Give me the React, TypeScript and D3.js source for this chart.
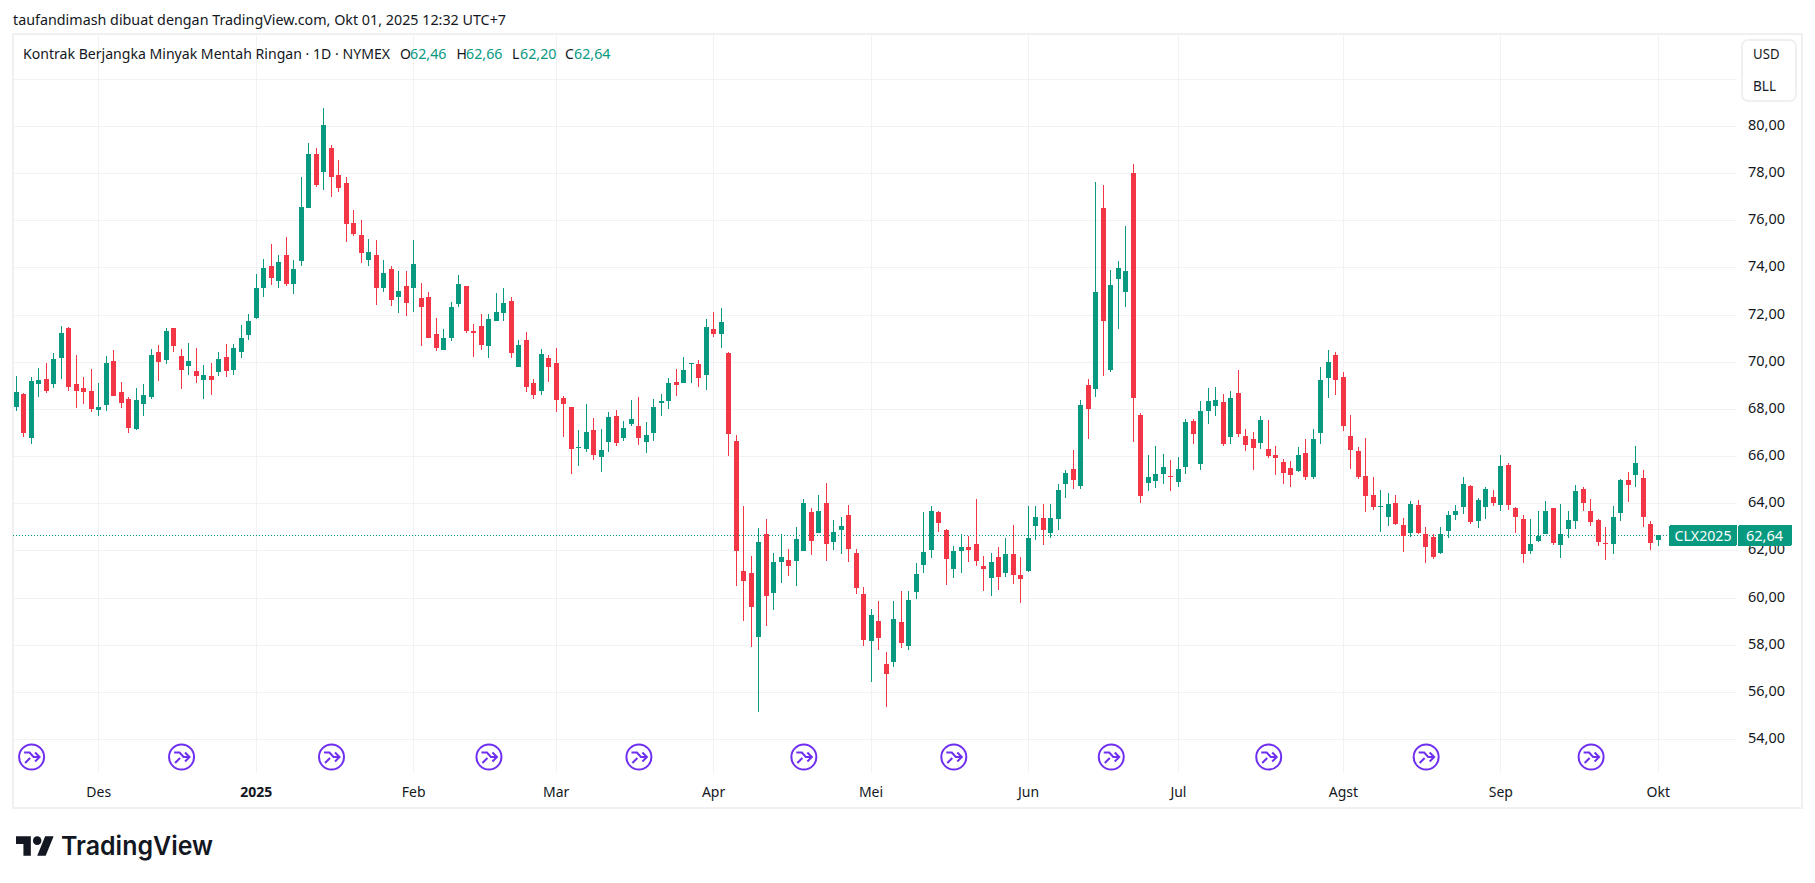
import * as d3 from "d3";

const width = 1815;
const height = 883;
const plotLeft = 13;
const plotRight = 1737;
const plotTop = 34;
const plotBottom = 773;
const frameRight = 1802;
const frameBottom = 808;

const green = "#089981";
const red = "#F23645";
const gridColor = "#f2f2f3";
const textColor = "#131722";
const font = "'Noto Sans', sans-serif";

const opens = [
  68.1, 68.64, 66.75, 69.04, 69.28, 69.04, 70.14, 71.44, 69.07, 68.9,
  68.77, 67.96, 68.15, 70.04, 68.73, 68.43, 67.13, 68.19, 68.49, 70.42,
  70.06, 71.44, 70.25, 69.8, 69.62, 69.21, 69.41, 69.55, 70.21, 69.67,
  70.4, 71.12, 71.84, 73.11, 74.07, 73.41, 74.54, 73.28, 74.26, 76.51,
  78.83, 78.03, 79.08, 77.93, 77.6, 75.9, 75.39, 74.3, 74.54, 73.11,
  73.95, 72.73, 73.22, 73.15, 72.71, 72.75, 71.18, 70.52, 70.99, 72.47,
  73.22, 71.31, 71.52, 70.65, 71.75, 72.05, 72.58, 69.76, 70.93, 69.11,
  68.78, 70.17, 69.95, 68.47, 68.09, 66.37, 66.32, 67.12, 65.94, 66.58,
  67.71, 66.75, 67.34, 67.29, 66.58, 67.0, 68.27, 68.32, 69.15, 69.12,
  69.91, 69.91, 69.42, 71.4, 71.16, 70.38, 66.65, 61.14, 61.06, 58.32,
  62.71, 60.18, 61.49, 61.61, 61.54, 61.96, 63.64, 62.72, 64.02, 62.34,
  62.85, 63.51, 61.9, 60.17, 58.15, 59.02, 57.16, 57.26, 58.98, 57.94,
  60.22, 61.37, 62.0, 63.64, 62.88, 61.2, 61.96, 62.16, 62.29, 61.35,
  60.82, 61.73, 61.03, 61.86, 60.97, 61.11, 63.02, 63.39, 62.72, 63.32,
  64.8, 65.46, 64.75, 69.02, 68.86, 76.53, 69.63, 73.49, 72.94, 78.0,
  67.75, 64.87, 64.96, 65.26, 65.16, 64.92, 65.55, 67.49, 65.68, 67.93,
  68.14, 68.3, 66.83, 68.68, 66.85, 66.73, 66.57, 66.3, 66.05, 65.75,
  65.5, 65.38, 66.13, 65.13, 67.0, 69.33, 70.29, 69.36, 66.85, 66.22,
  65.16, 64.35, 63.84, 63.43, 64.01, 63.08, 62.75, 63.93, 62.7, 62.57,
  61.9, 62.84, 63.48, 63.86, 64.74, 63.26, 63.86, 64.27, 63.94, 65.63,
  63.8, 63.33, 61.99, 62.4, 62.71, 63.8, 62.24, 62.92, 63.26, 64.61,
  63.67, 63.29, 62.33, 62.28, 63.6, 64.99, 65.18, 65.08, 63.12, 62.46,
];

const highs = [
  69.41, 68.68, 69.36, 69.75, 69.96, 70.38, 71.53, 71.49, 70.3, 69.36,
  69.7, 69.11, 70.25, 70.51, 69.15, 68.51, 68.9, 69.07, 70.55, 70.72,
  71.44, 71.44, 70.55, 70.81, 70.59, 69.87, 69.96, 70.42, 70.76, 70.76,
  71.57, 72.04, 73.73, 74.37, 75.01, 74.54, 75.3, 74.33, 77.85, 79.29,
  79.08, 80.76, 79.21, 78.57, 77.85, 76.45, 76.03, 75.22, 75.18, 74.33,
  74.07, 73.86, 73.85, 75.17, 73.34, 72.96, 71.86, 71.4, 72.54, 73.68,
  73.22, 71.61, 72.03, 72.03, 72.92, 73.13, 72.75, 70.93, 71.27, 69.28,
  70.55, 70.29, 70.59, 68.56, 68.09, 67.12, 68.22, 67.62, 67.16, 67.88,
  67.96, 67.5, 68.39, 68.51, 67.45, 68.43, 68.64, 69.32, 69.7, 70.21,
  69.95, 70.08, 71.82, 72.12, 72.29, 70.42, 66.9, 63.9, 61.78, 62.96,
  63.34, 61.9, 62.71, 62.07, 63.01, 64.19, 63.81, 64.36, 64.87, 63.3,
  63.43, 63.94, 62.07, 60.46, 59.53, 59.87, 57.71, 59.87, 60.29, 60.29,
  61.48, 63.64, 63.9, 63.68, 62.92, 62.2, 62.71, 62.62, 64.19, 61.78,
  61.9, 62.16, 62.54, 63.09, 61.73, 63.9, 63.9, 63.98, 63.98, 64.83,
  65.42, 66.27, 68.38, 69.27, 77.63, 77.5, 73.9, 74.28, 75.77, 78.4,
  67.83, 66.05, 66.43, 66.09, 65.84, 65.96, 67.58, 67.58, 68.34, 68.89,
  68.93, 68.64, 68.76, 69.65, 67.15, 67.02, 67.7, 67.53, 66.43, 65.88,
  65.79, 66.39, 66.73, 67.15, 69.78, 70.5, 70.42, 69.57, 67.75, 66.39,
  66.77, 65.11, 64.56, 64.44, 64.35, 63.37, 64.1, 64.14, 63.01, 62.71,
  63.01, 63.67, 63.93, 65.12, 64.78, 64.23, 64.7, 64.57, 66.06, 65.72,
  63.83, 63.5, 63.33, 63.67, 64.1, 63.8, 63.97, 63.67, 64.78, 64.7,
  64.18, 63.33, 62.99, 63.89, 65.04, 65.33, 66.44, 65.42, 63.25, 62.66,
];

const lows = [
  67.92, 66.83, 66.53, 68.49, 68.66, 68.87, 69.29, 68.74, 68.06, 68.19,
  67.89, 67.72, 67.93, 68.53, 68.02, 67.0, 67.09, 67.72, 68.44, 69.17,
  69.89, 70.4, 68.83, 69.42, 69.12, 68.44, 68.61, 69.38, 69.34, 69.46,
  70.14, 70.91, 71.8, 72.73, 73.24, 73.15, 73.2, 72.86, 74.05, 76.51,
  77.43, 77.27, 76.97, 77.19, 75.06, 75.32, 74.17, 74.05, 72.39, 72.94,
  72.35, 72.05, 71.96, 72.09, 70.69, 70.99, 70.44, 70.48, 70.86, 72.34,
  71.2, 70.22, 70.52, 70.14, 71.71, 71.75, 70.18, 69.76, 68.7, 68.4,
  68.61, 69.16, 67.89, 66.79, 65.22, 65.6, 66.16, 65.82, 65.31, 66.16,
  66.41, 66.62, 67.26, 66.45, 66.11, 66.66, 67.68, 67.98, 68.53, 69.08,
  69.12, 68.91, 68.82, 71.03, 70.6, 65.99, 60.48, 58.99, 57.89, 55.14,
  58.78, 59.46, 60.6, 60.9, 60.48, 61.96, 61.79, 62.72, 61.54, 62.0,
  61.83, 61.49, 60.14, 57.94, 56.41, 57.77, 55.35, 57.05, 57.85, 57.77,
  59.93, 61.03, 61.66, 62.77, 60.52, 60.82, 61.03, 61.49, 61.32, 60.27,
  60.05, 60.31, 60.86, 60.56, 59.76, 61.07, 62.43, 62.21, 62.51, 62.85,
  64.21, 64.59, 64.62, 66.74, 68.52, 69.41, 69.58, 71.37, 72.34, 66.61,
  64.03, 64.53, 64.66, 64.83, 64.53, 64.7, 65.26, 66.53, 65.43, 67.34,
  67.72, 66.44, 66.53, 66.83, 66.23, 65.43, 66.32, 65.93, 65.21, 64.83,
  64.7, 65.34, 65.0, 65.04, 66.53, 68.48, 68.57, 67.08, 65.47, 65.04,
  63.64, 63.73, 62.8, 63.04, 63.08, 61.94, 62.58, 62.71, 61.48, 61.65,
  61.86, 62.54, 63.3, 63.56, 63.13, 62.96, 63.35, 63.9, 63.69, 63.73,
  62.75, 61.48, 61.86, 62.37, 62.71, 62.24, 61.69, 62.54, 62.92, 63.69,
  63.05, 62.2, 61.6, 61.86, 63.26, 64.07, 64.67, 63.01, 62.03, 62.2,
];

const closes = [
  68.73, 67.0, 69.19, 69.24, 68.74, 70.13, 71.23, 68.91, 68.74, 68.7,
  67.98, 68.09, 69.96, 68.53, 68.27, 67.17, 68.39, 68.6, 70.3, 70.01,
  71.32, 70.69, 69.63, 70.04, 69.38, 69.45, 69.21, 70.13, 69.59, 70.59,
  71.02, 71.74, 73.14, 73.99, 73.54, 74.24, 73.28, 73.95, 76.58, 78.83,
  77.48, 80.06, 77.82, 77.36, 75.83, 75.4, 74.6, 74.67, 73.15, 73.78,
  72.6, 73.01, 72.51, 74.15, 72.34, 70.99, 70.6, 71.01, 72.33, 73.3,
  71.32, 71.2, 70.73, 71.82, 72.12, 72.5, 70.39, 70.72, 68.91, 68.61,
  70.34, 69.76, 68.36, 68.23, 66.28, 66.4, 67.03, 66.03, 66.27, 67.67,
  66.54, 67.2, 67.58, 66.75, 66.9, 68.09, 68.34, 69.11, 69.0, 69.66,
  69.95, 69.33, 71.48, 71.16, 71.69, 66.92, 61.96, 60.69, 59.59, 62.37,
  60.05, 61.52, 61.73, 61.32, 62.5, 64.02, 62.38, 63.68, 62.26, 62.79,
  63.05, 62.05, 60.39, 58.19, 59.28, 58.27, 56.75, 59.11, 58.06, 59.91,
  61.01, 61.95, 63.68, 63.15, 61.62, 61.99, 62.16, 62.0, 61.54, 61.2,
  61.52, 60.86, 61.86, 60.94, 60.77, 62.54, 63.43, 62.85, 63.39, 64.57,
  65.29, 64.97, 68.17, 68.01, 72.96, 71.75, 73.26, 73.98, 73.86, 68.48,
  64.32, 65.11, 65.24, 65.54, 65.11, 65.45, 67.45, 66.95, 67.92, 68.34,
  68.38, 66.53, 68.47, 66.95, 66.49, 66.36, 67.53, 66.02, 65.93, 65.3,
  65.21, 66.05, 65.13, 66.73, 69.23, 69.99, 69.24, 67.29, 66.27, 65.13,
  64.32, 63.86, 63.88, 63.97, 63.13, 62.62, 63.97, 62.75, 62.16, 61.73,
  62.7, 63.5, 63.67, 64.82, 63.22, 64.14, 64.61, 63.99, 65.59, 63.94,
  63.43, 61.86, 62.27, 62.61, 63.67, 62.33, 62.7, 63.29, 64.52, 64.03,
  63.22, 62.37, 62.28, 63.42, 64.99, 64.79, 65.72, 63.43, 62.33, 62.64,
];

const priceTicks = d3.range(54, 82, 2);
const gridOnlyTicks = [82];
const monthLabels = ["Des", "2025", "Feb", "Mar", "Apr", "Mei", "Jun", "Jul", "Agst", "Sep", "Okt"];
const monthCandles = [11, 32, 53, 72, 93, 114, 135, 155, 177, 198, 219];
const eventCandles = [2, 22, 42, 63, 83, 105, 125, 146, 167, 188, 210];
const lastPrice = 62.64;
const legendValues = ["62,46", "62,66", "62,20", "62,64"];

const x = d3.scaleLinear().domain([0, 219]).range([16.3, 1658.3]);
const y = d3.scaleLinear().domain([80, 54]).range([126, 739]);
const px = (i: number) => Math.floor(x(i));
const py = (v: number) => Math.round(y(v));
const priceFormat = (v: number) => d3.format(".2f")(v).replace(".", ",");

const App = () => {
  return (
    <svg
      width={width}
      height={height}
      viewBox={`0 0 ${width} ${height}`}
      style={{ position: "absolute", left: 0, top: 0, background: "#fff" }}
      fontFamily={font}
    >
      <text x={13} y={25} fontSize={14} fill={textColor} textLength={493} lengthAdjust="spacingAndGlyphs">
        taufandimash dibuat dengan TradingView.com, Okt 01, 2025 12:32 UTC+7
      </text>

      <g shapeRendering="crispEdges">
        {[...priceTicks, ...gridOnlyTicks].map((t) => (
          <line key={t} x1={plotLeft} x2={plotRight} y1={py(t) + 0.5} y2={py(t) + 0.5} stroke={gridColor} />
        ))}
        {monthCandles.map((c) => (
          <line key={c} x1={px(c) + 0.5} x2={px(c) + 0.5} y1={plotTop} y2={plotBottom} stroke={gridColor} />
        ))}
        <rect
          x={plotLeft}
          y={plotTop}
          width={frameRight - plotLeft}
          height={frameBottom - plotTop}
          fill="none"
          stroke="#f0f0f0"
          strokeWidth={2}
        />
      </g>

      <line
        x1={plotLeft}
        x2={1669}
        y1={py(lastPrice) + 0.5}
        y2={py(lastPrice) + 0.5}
        stroke={green}
        strokeDasharray="1 2"
        shapeRendering="crispEdges"
      />

      <g shapeRendering="crispEdges">
        {opens.map((o, i) => {
          const c = closes[i];
          const color = c >= o ? green : red;
          const top = py(Math.max(o, c));
          const bottom = py(Math.min(o, c));
          return (
            <g key={i} fill={color}>
              <rect x={px(i)} y={py(highs[i])} width={1} height={py(lows[i]) - py(highs[i])} />
              <rect x={px(i) - 2} y={top} width={5} height={Math.max(1, bottom - top)} />
            </g>
          );
        })}
      </g>

      <text x={23} y={58.5} fontSize={14} fill={textColor} textLength={367} lengthAdjust="spacingAndGlyphs">
        Kontrak Berjangka Minyak Mentah Ringan · 1D · NYMEX
      </text>
      {["O", "H", "L", "C"].map((k, i) => (
        <g key={k} fontSize={14}>
          <text x={[400, 456.5, 512, 565][i]} y={58.5} fill={textColor}>
            {k}
          </text>
          <text x={[410, 466, 520, 574][i]} y={58.5} fill={green} textLength={36.5} lengthAdjust="spacingAndGlyphs">
            {legendValues[i]}
          </text>
        </g>
      ))}

      <rect x={1742} y={40} width={54} height={61} rx={6} fill="#fff" stroke="#f0f0f0" strokeWidth={2} />
      <text x={1753} y={59} fontSize={14} fill={textColor} textLength={26.5} lengthAdjust="spacingAndGlyphs">USD</text>
      <text x={1753} y={91} fontSize={14} fill={textColor} textLength={23} lengthAdjust="spacingAndGlyphs">BLL</text>

      {priceTicks.map((t) => (
        <text key={t} x={1748} y={py(t) + 4} fontSize={14} fill={textColor} textLength={37} lengthAdjust="spacingAndGlyphs">
          {priceFormat(t)}
        </text>
      ))}

      {eventCandles.map((c) => {
        const cx = x(c) + 0.3;
        return (
          <g key={c} transform={`translate(${cx},757)`} fill="none" stroke="#6f2ff0" strokeWidth={2}>
            <circle r={12.5} />
            <path d="M-7.5 -4.5 L-2 -4.5 L2 0 L8 0 M3.5 -4.5 L8 0 L3.5 4.5 M-6.5 6 L-1.5 1" />
          </g>
        );
      })}

      {monthLabels.map((m, i) => (
        <text
          key={m}
          x={x(monthCandles[i])}
          y={797}
          fontSize={14}
          textAnchor="middle"
          fill={textColor}
          fontWeight={m === "2025" ? 700 : 400}
        >
          {m}
        </text>
      ))}

      <g shapeRendering="crispEdges">
        <rect x={1669} y={525} width={68} height={21} rx={2} fill={green} />
        <rect x={1738} y={525} width={54} height={21} rx={2} fill={green} />
      </g>
      <text x={1703} y={541} fontSize={14} fill="#fff" textAnchor="middle" textLength={57} lengthAdjust="spacingAndGlyphs">
        CLX2025
      </text>
      <text x={1764.5} y={541} fontSize={14} fill="#fff" textAnchor="middle" textLength={37} lengthAdjust="spacingAndGlyphs">
        {priceFormat(lastPrice)}
      </text>

      <g transform="translate(16,832) scale(1.06,1.08)" fill="#131722">
        <path d="M14 22H7V11H0V4h14v18zM28 22h-8l7.5-18h8L28 22z" />
        <circle cx="20" cy="8" r="4" />
      </g>
      <text
        x={61}
        y={855}
        fontFamily="Inter, sans-serif"
        fontSize={26}
        fontWeight={600}
        fill="#131722"
        textLength={152}
        lengthAdjust="spacingAndGlyphs"
      >
        TradingView
      </text>
    </svg>
  );
};

export default App;
